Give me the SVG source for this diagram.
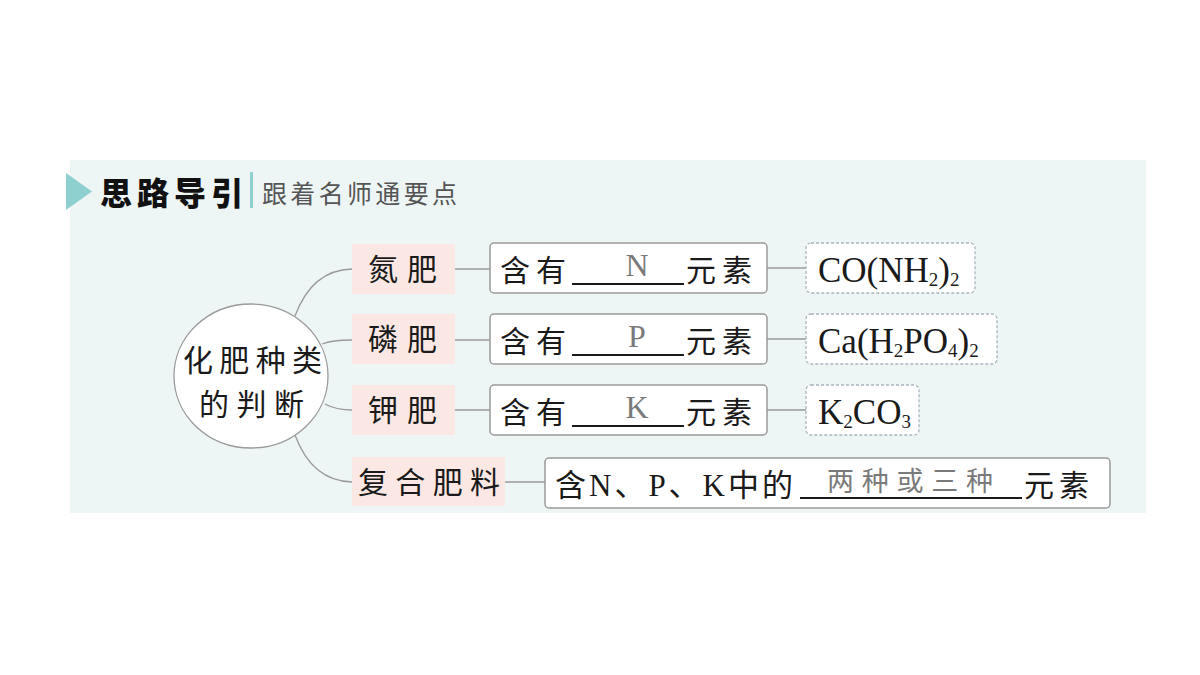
<svg xmlns="http://www.w3.org/2000/svg" width="1200" height="675" viewBox="0 0 1200 675">
<defs>
<style>
.cjk{font-family:"Liberation Serif","Noto Sans CJK SC",serif;fill:#1a1a1a}
.pink{fill:#fbe8e4;stroke:none}
.box{fill:#ffffff;stroke:#9a9a9a;stroke-width:1.5}
.dbox{fill:#ffffff;stroke:#a8b4bc;stroke-width:1.3;stroke-dasharray:3 2}
.line{fill:none;stroke:#9a9a9a;stroke-width:1.3}
.ans{fill:#7a7a7a}
.ul{stroke:#1a1a1a;stroke-width:2}
</style>
</defs>
<rect x="0" y="0" width="1200" height="675" fill="#ffffff"/>
<rect x="70" y="160" width="1076" height="353" fill="#eef5f5"/>
<g id="header">
<polygon points="66,173 92,191.5 66,210" fill="#8ecfcf"/>
<text x="100" y="205" font-family="'Noto Sans CJK SC',sans-serif" font-weight="900" font-size="32" textLength="143" fill="#111">思路导引</text>
<rect x="250" y="172" width="3" height="36" fill="#8ecfcf"/>
<text x="262" y="203" font-family="'Noto Sans CJK SC',sans-serif" font-size="25" textLength="195" fill="#555">跟着名师通要点</text>
</g>
<g id="connectors">
<path class="line" d="M295,316 Q312,270 352,269"/>
<path class="line" d="M322,344 Q332,340 352,340"/>
<path class="line" d="M325,404 Q336,410 352,410"/>
<path class="line" d="M295,435 Q312,481 352,482"/>
<path class="line" d="M455,269 H490 M455,340 H490 M455,410 H490 M505,482 H545"/>
<path class="line" d="M767,268 H806 M767,339 H806 M767,410 H806"/>
</g>
<g id="root">
<ellipse cx="251" cy="376" rx="77" ry="72" fill="#ffffff" stroke="#9a9a9a" stroke-width="1.3"/>
<text class="cjk" x="183" y="371" font-size="30" textLength="139">化肥种类</text>
<text class="cjk" x="199" y="415" font-size="30" textLength="105">的判断</text>
</g>
<g id="n-fert">
<rect class="pink" x="352" y="244" width="103" height="50"/>
<text class="cjk" x="368" y="280" font-size="30" textLength="69">氮肥</text>
</g>
<g id="p-fert">
<rect class="pink" x="352" y="314" width="103" height="50"/>
<text class="cjk" x="368" y="350" font-size="30" textLength="69">磷肥</text>
</g>
<g id="k-fert">
<rect class="pink" x="352" y="385" width="103" height="50"/>
<text class="cjk" x="368" y="421" font-size="30" textLength="69">钾肥</text>
</g>
<g id="compound-fert">
<rect class="pink" x="352" y="457" width="153" height="49"/>
<text class="cjk" x="358" y="493" font-size="30" textLength="142">复合肥料</text>
</g>
<g id="n-elem">
<rect class="box" x="490" y="243" width="277" height="50" rx="4"/>
<text class="cjk" x="500" y="281" font-size="30" textLength="66">含有</text>
<line class="ul" x1="572" y1="284" x2="684" y2="284"/>
<text class="cjk ans" x="637" y="276" font-size="32" text-anchor="middle">N</text>
<text class="cjk" x="686" y="281" font-size="30" textLength="66">元素</text>
</g>
<g id="p-elem">
<rect class="box" x="490" y="314" width="277" height="50" rx="4"/>
<text class="cjk" x="500" y="352" font-size="30" textLength="66">含有</text>
<line class="ul" x1="572" y1="355" x2="684" y2="355"/>
<text class="cjk ans" x="637" y="347" font-size="32" text-anchor="middle">P</text>
<text class="cjk" x="686" y="352" font-size="30" textLength="66">元素</text>
</g>
<g id="k-elem">
<rect class="box" x="490" y="385" width="277" height="50" rx="4"/>
<text class="cjk" x="500" y="423" font-size="30" textLength="66">含有</text>
<line class="ul" x1="572" y1="426" x2="684" y2="426"/>
<text class="cjk ans" x="637" y="418" font-size="32" text-anchor="middle">K</text>
<text class="cjk" x="686" y="423" font-size="30" textLength="66">元素</text>
</g>
<g id="compound-elem">
<rect class="box" x="545" y="458" width="565" height="50" rx="4"/>
<text class="cjk" x="555" y="496" font-size="31" textLength="238">含N、P、K中的</text>
<line class="ul" x1="800" y1="498" x2="1022" y2="498"/>
<text class="cjk ans" x="827" y="491" font-size="27" font-family="'Noto Sans CJK SC',sans-serif" textLength="166">两种或三种</text>
<text class="cjk" x="1024" y="496" font-size="30" textLength="65">元素</text>
</g>
<g id="urea">
<rect class="dbox" x="806" y="243" width="169" height="50" rx="5"/>
<text class="cjk" x="818" y="282" font-size="35">CO(NH<tspan font-size="19" dy="4">2</tspan><tspan dy="-4">)</tspan><tspan font-size="19" dy="4">2</tspan></text>
</g>
<g id="calcium-phosphate">
<rect class="dbox" x="806" y="314" width="191" height="50" rx="5"/>
<text class="cjk" x="818" y="353" font-size="35">Ca(H<tspan font-size="19" dy="4">2</tspan><tspan dy="-4">PO</tspan><tspan font-size="19" dy="4">4</tspan><tspan dy="-4">)</tspan><tspan font-size="19" dy="4">2</tspan></text>
</g>
<g id="potash">
<rect class="dbox" x="806" y="385" width="113" height="50" rx="5"/>
<text class="cjk" x="818" y="424" font-size="35">K<tspan font-size="19" dy="4">2</tspan><tspan dy="-4">CO</tspan><tspan font-size="19" dy="4">3</tspan></text>
</g>
</svg>
